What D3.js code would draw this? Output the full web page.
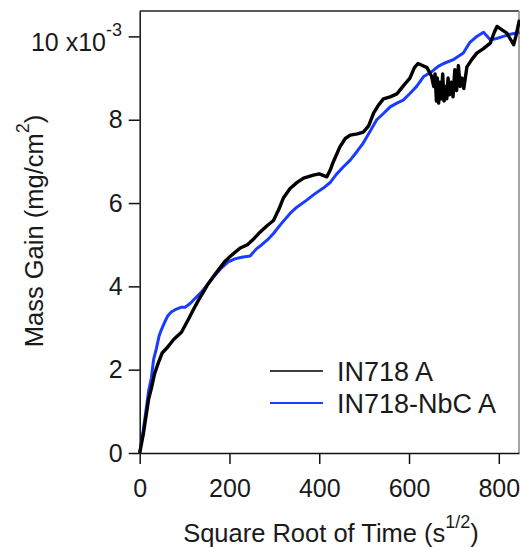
<!DOCTYPE html>
<meta charset="utf-8">
<style>
body { margin: 0; background: #fff; }
text { font-family: "Liberation Sans", Arial, sans-serif; fill: #1a1a1a; }
.axis path, .axis line { stroke: #111; stroke-width: 1.5px; }
</style>
<svg width="520" height="547"></svg>
<script src="https://d3js.org/d3.v7.min.js"></script>
<script>

// sqrt(time) in s^1/2, mass gain in units of 1e-3 mg/cm^2
var in718X = [0, 8, 15, 20, 26, 33, 41, 50, 63, 75, 93, 108, 120, 131, 142, 153, 165, 175, 190, 205,
  224, 240, 255, 268, 283, 298, 310, 320, 335, 350, 365, 387, 400, 417, 424, 431, 446, 458, 469, 485,
  498, 510, 521, 532, 543, 558, 573, 590, 602, 612, 620, 630, 640, 650, 655, 658, 661, 663, 666, 669,
  672, 675, 678, 681, 684, 687, 690, 694, 698, 702, 706, 710, 714, 718, 722, 729, 740, 751, 765, 781,
  790, 796, 808, 818, 825, 833, 838, 844, 846];
var in718Y = [0, 0.45, 0.95, 1.3, 1.55, 1.9, 2.15, 2.4, 2.55, 2.72, 2.9, 3.2, 3.45, 3.67, 3.87, 4.07, 4.25, 4.39, 4.6, 4.75,
  4.92, 5.0, 5.15, 5.3, 5.45, 5.58, 5.85, 6.12, 6.35, 6.49, 6.6, 6.67, 6.7, 6.63, 6.78, 6.98, 7.35, 7.55, 7.63, 7.66,
  7.7, 7.85, 8.16, 8.35, 8.5, 8.55, 8.62, 8.85, 9.0, 9.25, 9.35, 9.3, 9.25, 9.05, 8.8, 9.1, 8.45, 9.0, 8.4, 8.9,
  8.5, 9.1, 8.45, 8.8, 8.5, 9.0, 8.6, 8.9, 8.55, 9.2, 8.7, 9.3, 8.8, 9.0, 8.75, 9.27, 9.45, 9.6, 9.7, 9.84,
  10.1, 10.24, 10.15, 10.08, 9.95, 9.8, 10.0, 10.3, 10.4];

var nbcX = [0, 8, 15, 20, 26, 31, 37, 43, 48, 56, 63, 71, 79, 86, 93, 101, 108, 116, 127, 138,
  153, 168, 183, 197, 212, 227, 246, 260, 272, 285, 298, 315, 335, 350, 372, 390, 409, 425, 439, 454,
  469, 485, 498, 513, 528, 543, 558, 573, 587, 602, 617, 632, 650, 665, 677, 700, 721, 735, 751, 766,
  781, 795, 810, 825, 840, 846];
var nbcY = [0, 0.55, 1.1, 1.5, 1.8, 2.25, 2.5, 2.8, 2.95, 3.15, 3.3, 3.39, 3.44, 3.47, 3.5, 3.5, 3.55, 3.63, 3.75, 3.87,
  4.07, 4.27, 4.45, 4.59, 4.66, 4.7, 4.73, 4.9, 5.0, 5.12, 5.27, 5.5, 5.75, 5.9, 6.07, 6.22, 6.36, 6.5, 6.7, 6.87,
  7.03, 7.25, 7.44, 7.72, 8.0, 8.15, 8.31, 8.4, 8.47, 8.63, 8.8, 9.03, 9.15, 9.28, 9.35, 9.45, 9.6, 9.85, 10.0, 10.1,
  9.92, 9.95, 10.0, 10.05, 10.08, 10.1];

var seriesNames = ["IN718 A", "IN718-NbC A"];
var seriesColors = ["#000000", "#1a3cff"];
var xTicks = [0, 200, 400, 600, 800];
var yTicks = [0, 2, 4, 6, 8, 10];

var svg = d3.select("svg");
// plot box edges in px ("top" is taken by window.top)
var boxLeft = 139.7, boxRight = 519, boxTop = 11, boxBottom = 453;

var x = d3.scaleLinear().domain([0, 845]).range([boxLeft, boxRight]);
var y = d3.scaleLinear().domain([0, 10.61]).range([boxBottom, boxTop]);

// frame top/right
svg.append("line").attr("x1", boxLeft).attr("x2", boxRight).attr("y1", boxTop).attr("y2", boxTop)
  .attr("stroke", "#222").attr("stroke-width", 1.5);
svg.append("line").attr("x1", boxRight).attr("x2", boxRight).attr("y1", boxTop).attr("y2", boxBottom)
  .attr("stroke", "#888").attr("stroke-width", 1.5);

var series = [
  d3.zip(in718X, in718Y),
  d3.zip(nbcX, nbcY)
];
var line = d3.line().x(function(d) { return x(d[0]); }).y(function(d) { return y(d[1]); });

var plot = svg.append("g");
plot.append("path").datum(series[1]).attr("d", line).attr("fill", "none")
  .attr("stroke", seriesColors[1]).attr("stroke-width", 3).attr("stroke-linejoin", "round");
plot.append("path").datum(series[0]).attr("d", line).attr("fill", "none")
  .attr("stroke", seriesColors[0]).attr("stroke-width", 3.4).attr("stroke-linejoin", "round");

var xAxis = svg.append("g").attr("class", "axis").attr("transform", "translate(0," + boxBottom + ")")
  .call(d3.axisBottom(x).tickValues(xTicks).tickSize(11).tickSizeOuter(0).tickPadding(15));
xAxis.selectAll("text").attr("font-size", 25).attr("fill", "#1a1a1a")
  .attr("font-family", "Liberation Sans, Arial, sans-serif");

var yAxis = svg.append("g").attr("class", "axis").attr("transform", "translate(" + boxLeft + ",0)")
  .call(d3.axisLeft(y).tickValues(yTicks).tickSize(11).tickSizeOuter(0).tickPadding(6)
    .tickFormat(function(d) { return d === 10 ? "" : d; }));
yAxis.selectAll("text").attr("font-size", 25).attr("fill", "#1a1a1a")
  .attr("font-family", "Liberation Sans, Arial, sans-serif");

// top tick label with exponent
var topLab = svg.append("text").attr("x", 122).attr("y", y(10) + 15)
  .attr("text-anchor", "end").attr("font-size", 25);
topLab.append("tspan").text("10 x10");
topLab.append("tspan").attr("dy", -15).attr("font-size", 18).text("-3");

// axis titles
var xt = svg.append("text").attr("x", 331).attr("y", 542).attr("text-anchor", "middle").attr("font-size", 25.5);
xt.append("tspan").text("Square Root of Time (s");
xt.append("tspan").attr("dy", -14).attr("font-size", 18).text("1/2");
xt.append("tspan").attr("dy", 14).text(")");

var yt = svg.append("text").attr("transform", "translate(43,231) rotate(-90)")
  .attr("text-anchor", "middle").attr("font-size", 25.5);
yt.append("tspan").text("Mass Gain (mg/cm");
yt.append("tspan").attr("dy", -14).attr("font-size", 18).text("2");
yt.append("tspan").attr("dy", 14).text(")");

// legend
var legend = svg.append("g");
seriesNames.forEach(function(name, i) {
  var ly = 371 + i * 32;
  legend.append("line").attr("x1", 270).attr("x2", 323).attr("y1", ly).attr("y2", ly)
    .attr("stroke", seriesColors[i]).attr("stroke-width", 2).attr("opacity", i === 0 ? 0.75 : 1);
  legend.append("text").attr("x", 337).attr("y", ly + 9.5).attr("font-size", 27).text(name);
});

</script>
